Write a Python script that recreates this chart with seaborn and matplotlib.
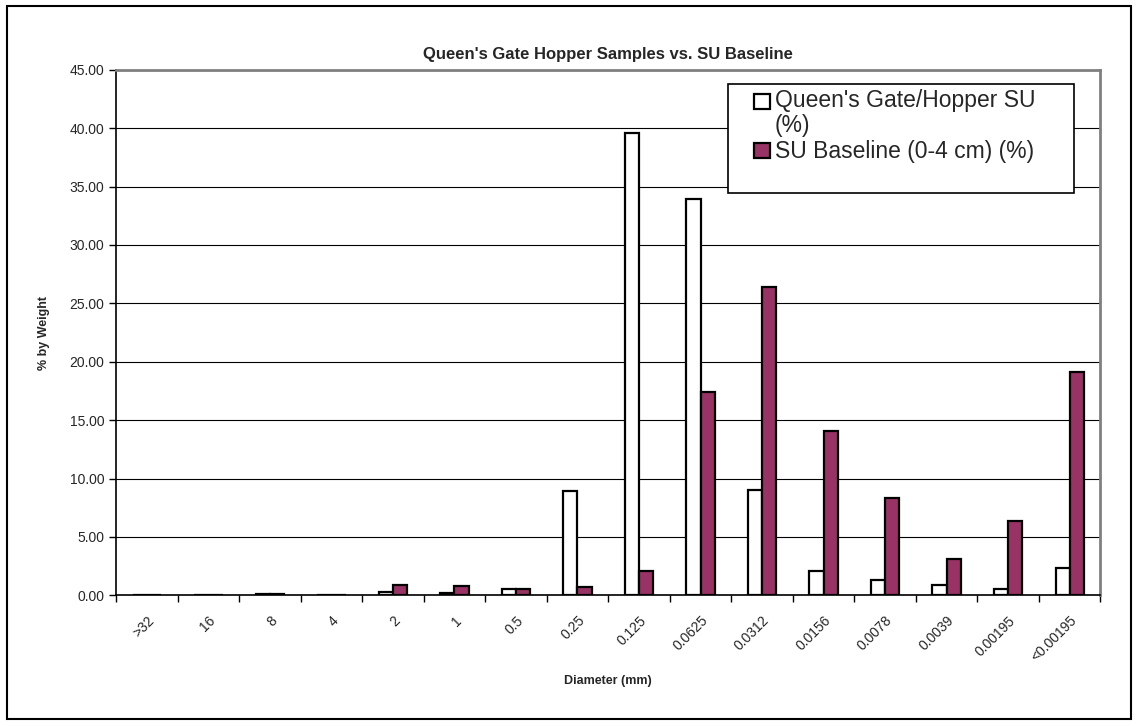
import numpy as np
import pandas as pd
import matplotlib.pyplot as plt
import seaborn as sns
from matplotlib.patches import Rectangle

diametros = [">32", "16", "8", "4", "2", "1", "0.5", "0.25", "0.125", "0.0625",
             "0.0312", "0.0156", "0.0078", "0.0039", "0.00195", "<0.00195"]
queens_gate = [0.0, 0.0, 0.1, 0.05, 0.3, 0.2, 0.55, 8.9, 39.6, 33.9,
               9.0, 2.1, 1.3, 0.9, 0.5, 2.3]
su_baseline = [0.0, 0.0, 0.1, 0.05, 0.85, 0.8, 0.5, 0.7, 2.1, 17.4,
               26.4, 14.1, 8.3, 3.1, 6.4, 19.1]

serie_qg = "Queen's Gate/Hopper SU\n(%)"
serie_su = "SU Baseline (0-4 cm) (%)"

df = pd.DataFrame({
    "Diametro": diametros * 2,
    "Valor": queens_gate + su_baseline,
    "Serie": [serie_qg] * len(diametros) + [serie_su] * len(diametros),
})

sns.set_style("white")
plt.rcParams['font.family'] = ['Liberation Sans', 'DejaVu Sans']

fig = plt.figure(figsize=(11.38, 7.26), dpi=100)
ax = fig.add_axes([0.102, 0.180, 0.865, 0.724])

sns.barplot(data=df, x="Diametro", y="Valor", hue="Serie", order=diametros,
            palette={serie_qg: "white", serie_su: "#993366"}, saturation=1,
            width=0.46, edgecolor="black", linewidth=1.6, ax=ax)

n = len(diametros)
ax.set_ylim(0, 45)
ax.set_xlim(-0.5, n - 0.5)
ax.set_yticks(range(0, 46, 5))
ax.set_yticklabels([f"{v:.2f}" for v in range(0, 46, 5)], fontsize=10)
ax.set_xticks(range(n))
ax.set_xticklabels(diametros, rotation=45, ha="right", rotation_mode="anchor",
                   fontsize=10)
# marcas en los limites de categoria, estilo Excel
ax.set_xticks(np.arange(-0.5, n), minor=True)
ax.tick_params(axis="x", which="major", length=0, pad=13)
ax.tick_params(axis="x", which="minor", direction="out", length=5, width=1,
               color="black", bottom=True)
ax.tick_params(axis="y", direction="out", length=5, width=1, color="black",
               left=True)
ax.yaxis.grid(True, color="black", linewidth=0.8)
ax.set_axisbelow(True)

for lado in ["left", "bottom"]:
    ax.spines[lado].set_color("black")
    ax.spines[lado].set_linewidth(1.2)
for lado in ["top", "right"]:
    ax.spines[lado].set_color("#808080")
    ax.spines[lado].set_linewidth(2)

ax.set_xlabel("Diameter (mm)", fontsize=9, fontweight="bold", labelpad=8)
ax.set_ylabel("% by Weight", fontsize=9, fontweight="bold", labelpad=14)
ax.set_title("Queen's Gate Hopper Samples vs. SU Baseline", fontsize=12,
             fontweight="bold", pad=8)

leg = ax.legend(loc="upper left", bbox_to_anchor=(0.648, 0.963),
                fontsize=16.5, frameon=False, borderpad=0,
                handlelength=0.72, handleheight=0.65,
                handletextpad=0.18, labelspacing=0.15, borderaxespad=0)
for t in leg.get_texts():
    t.set_linespacing(1.1)
# el cuadro de la primera serie va con la primera linea del texto
h0 = leg.legend_handles[0]
h0.set_y(h0.get_y() + 9)
ax.add_patch(Rectangle((0.622, 0.766), 0.351, 0.207, transform=ax.transAxes,
                       facecolor="white", edgecolor="black", linewidth=1.2,
                       zorder=4, clip_on=False))
leg.set_zorder(5)

fig.patches.append(Rectangle((0.006, 0.009), 0.988, 0.983, transform=fig.transFigure,
                             fill=False, edgecolor="black", linewidth=1.5))

fig.savefig("out.png", dpi=100, facecolor="white")
